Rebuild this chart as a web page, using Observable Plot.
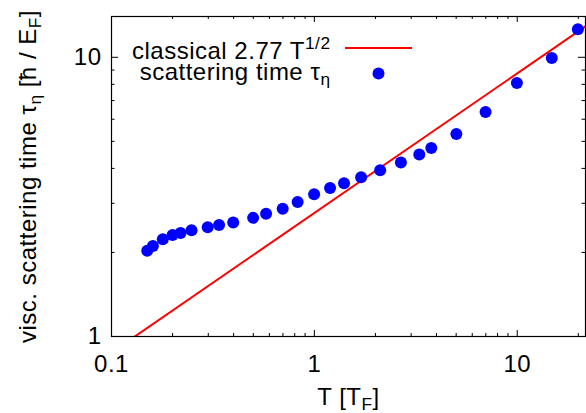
<!DOCTYPE html>
<html>
<head>
<meta charset="utf-8">
<script src="https://cdn.jsdelivr.net/npm/d3@7"></script>
<script src="https://cdn.jsdelivr.net/npm/@observablehq/plot@0.6"></script>
<style>
  html, body { margin: 0; padding: 0; background: #fff; }
  #chart svg { display: block; }
  #chart svg text { letter-spacing: 0.5px; }
</style>
</head>
<body>
<div id="chart"></div>
<script>
// Data
const temperature = [0.150, 0.160, 0.179, 0.200, 0.219, 0.248, 0.298, 0.339, 0.398, 0.499,
                     0.578, 0.698, 0.827, 0.997, 1.195, 1.40, 1.70, 2.11, 2.67, 3.29,
                     3.77, 5.01, 6.98, 9.96, 14.8, 19.9];
const scatteringTime = [2.03, 2.11, 2.23, 2.31, 2.35, 2.40, 2.46, 2.51, 2.56, 2.66,
                        2.75, 2.87, 3.03, 3.23, 3.40, 3.54, 3.72, 3.94, 4.20, 4.49,
                        4.73, 5.31, 6.37, 8.09, 9.94, 12.6];
// classical line: tau = 2.77 * T^(1/2)
const classicalCoef = 2.77;
const classicalT = [0.1, 22];

const xMajor = [0.1, 1, 10];
const xMinor = [0.2, 0.3, 0.4, 0.5, 0.6, 0.7, 0.8, 0.9, 2, 3, 4, 5, 6, 7, 8, 9, 20];
const yMajor = [1, 10];
const yMinor = [2, 3, 4, 5, 6, 7, 8, 9];
const xTickLabels = ["0.1", "1", "10"];
const yTickLabels = ["1", "10"];

const legendLabels = ["classical 2.77 T^{1/2}", "scattering time \u03C4_{\u03B7}"];
const xLabel = "T [T_{F}]";
const yLabel = "visc. scattering time \u03C4_{\u03B7} [\u0127 / E_{F}]";

const points = temperature.map((t, i) => ({T: t, tau: scatteringTime[i]}));
const classical = classicalT.map(t => ({T: t, tau: classicalCoef * Math.sqrt(t)}));

const W = 586, H = 413, mL = 111, mR = 1, mT = 16, mB = 77;
const ph = H - mT - mB, pw = W - mL - mR;
const FS = 24;

const chart = Plot.plot({
  width: W, height: H,
  marginLeft: mL, marginRight: mR, marginTop: mT, marginBottom: mB,
  style: {fontFamily: "'Liberation Sans', Arial, sans-serif", fontSize: FS + "px", background: "#fff", color: "#000"},
  x: {type: "log", domain: [0.1, 21.7]},
  y: {type: "log", domain: [1, 14]},
  marks: [
    Plot.line(classical, {x: "T", y: "tau", stroke: "#ff0000", strokeWidth: 2, clip: true}),
    Plot.dot(points, {x: "T", y: "tau", r: 6, fill: "#0000ff", stroke: "none"}),
    // ticks (inward, mirrored)
    Plot.tickX(xMajor, {x: d => d, insetTop: ph - 6, stroke: "#000"}),
    Plot.tickX(xMajor, {x: d => d, insetBottom: ph - 6, stroke: "#000"}),
    Plot.tickX(xMinor, {x: d => d, insetTop: ph - 3, stroke: "#000"}),
    Plot.tickX(xMinor, {x: d => d, insetBottom: ph - 3, stroke: "#000"}),
    Plot.tickY(yMajor, {y: d => d, insetRight: pw - 7, stroke: "#000"}),
    Plot.tickY(yMajor, {y: d => d, insetLeft: pw - 7, stroke: "#000"}),
    Plot.tickY(yMinor, {y: d => d, insetRight: pw - 3.5, stroke: "#000"}),
    Plot.tickY(yMinor, {y: d => d, insetLeft: pw - 3.5, stroke: "#000"}),
    Plot.frame({stroke: "#000", strokeWidth: 1.2}),
    Plot.axisX(xMajor, {tickSize: 0, tickPadding: 18, tickFormat: d => xTickLabels[xMajor.indexOf(d)], label: null, fill: "#000"}),
    Plot.axisY(yMajor, {tickSize: 0, tickPadding: 10, tickFormat: d => yTickLabels[yMajor.indexOf(d)], label: null, fill: "#000"}),
    // axis titles
    Plot.text([xLabel], {text: d => d, frameAnchor: "bottom", dy: 68, lineAnchor: "bottom", textAnchor: "middle", fill: "#000"}),
    Plot.text([yLabel], {text: d => d, frameAnchor: "left", dx: -76, rotate: -90, lineAnchor: "bottom", textAnchor: "middle", fill: "#000"}),
    // legend
    Plot.text([legendLabels[0]], {text: d => d, frameAnchor: "top-left", dx: 219, dy: 42.5, textAnchor: "end", lineAnchor: "bottom", fill: "#000"}),
    Plot.text([legendLabels[1]], {text: d => d, frameAnchor: "top-left", dx: 219, dy: 63, textAnchor: "end", lineAnchor: "bottom", fill: "#000"}),
    Plot.ruleY([0], {y: null, insetLeft: 234, insetRight: 173, dy: 47.5 - (mT + ph / 2), stroke: "#ff0000", strokeWidth: 2}),
    Plot.dot([0], {frameAnchor: "top-left", dx: 267, dy: 57, r: 6, fill: "#0000ff", stroke: "none"})
  ]
});

// Turn ^{..} and _{..} markup into real super/subscript tspans
const NS = "http://www.w3.org/2000/svg";
d3.select(chart).selectAll("text").each(function () {
  const s = this.textContent;
  if (!/[_^]\{/.test(s)) return;
  const parts = s.split(/([_^]\{[^}]*\})/).filter(p => p.length);
  this.textContent = "";
  let shift = 0;
  for (const p of parts) {
    const t = document.createElementNS(NS, "tspan");
    let target = 0, txt = p, small = false;
    if (p.startsWith("^{")) { target = -0.4 * FS; txt = p.slice(2, -1); small = true; }
    else if (p.startsWith("_{")) { target = 0.24 * FS; txt = p.slice(2, -1); small = true; }
    t.setAttribute("dy", (target - shift).toFixed(1));
    shift = target;
    if (small) t.setAttribute("font-size", (0.72 * FS).toFixed(1));
    t.textContent = txt;
    this.appendChild(t);
  }
});

document.getElementById("chart").appendChild(chart);
</script>
</body>
</html>
